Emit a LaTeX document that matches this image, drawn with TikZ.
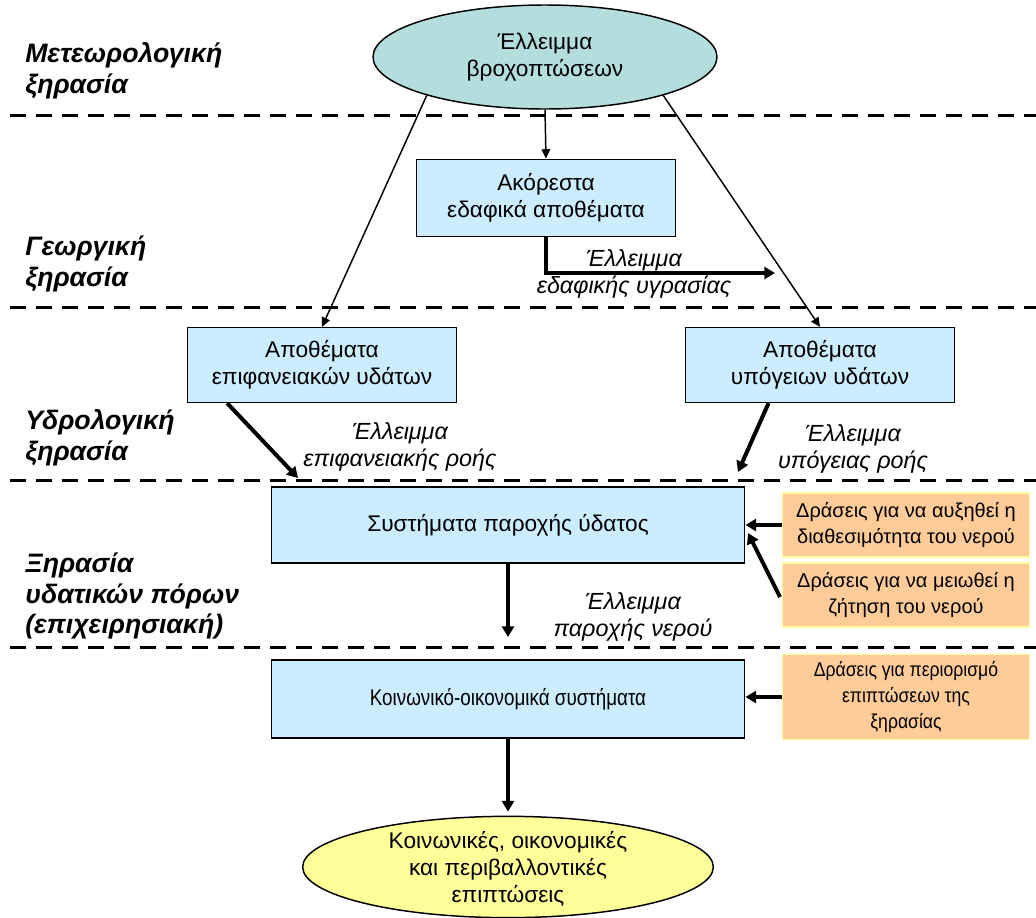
\documentclass[tikz,border=0pt]{standalone}
\usepackage{fontspec}
\setmainfont{Liberation Sans}
\usetikzlibrary{arrows.meta,shapes.geometric,calc}
\definecolor{boxblue}{HTML}{CCECFF}
\definecolor{ellteal}{HTML}{B4DEDE}
\definecolor{actorange}{HTML}{FFCC99}
\definecolor{actborder}{HTML}{FFFF99}
\definecolor{impyellow}{HTML}{FFFF99}
\tikzset{
  bluebox/.style={draw=black, line width=1.2pt, fill=boxblue, align=center, inner sep=0pt,
    font=\fontsize{17}{20}\selectfont},
  actbox/.style={draw=actborder, line width=1pt, fill=actorange, align=center, inner sep=0pt,
    minimum width=185pt, font=\fontsize{15}{19.5}\selectfont},
  ellnode/.style={ellipse, draw=black, line width=1.1pt, inner sep=0pt},
  bodytext/.style={align=center, inner sep=0pt, font=\fontsize{17}{20}\selectfont},
  sidelabel/.style={anchor=west, align=left, inner sep=0pt, font=\bfseries\itshape\fontsize{20}{23}\selectfont},
  flowlabel/.style={align=center, inner sep=0pt, font=\itshape\fontsize{17.5}{20.5}\selectfont},
  sepline/.style={line width=2.25pt, dash pattern=on 12pt off 7.5pt},
  thinarr/.style={line width=1.1pt, -{Triangle[length=7pt,width=6.5pt]}},
  thickarr/.style={line width=3pt, -{Triangle[length=8pt,width=9pt]}},
}
\begin{document}
\begin{tikzpicture}[x=0.75pt,y=-0.75pt]
\useasboundingbox (0,0) rectangle (1036,918);

% separators
\draw[sepline] (10,115) -- (1036,115);
\draw[sepline] (10,307) -- (1036,307);
\draw[sepline] (10,480) -- (1036,480);
\draw[sepline] (10,647) -- (1036,647);

% side labels
\node[sidelabel] (sl1) at (25,71) {Μετεωρολογική\\ξηρασία};
\node[sidelabel] (sl2) at (25,264) {Γεωργική\\ξηρασία};
\node[sidelabel] (sl3) at (25,438) {Υδρολογική\\ξηρασία};
\node[sidelabel] (sl4) at (25,596) {Ξηρασία\\υδατικών πόρων\\(επιχειρησιακή)};

% nodes
\node[ellnode, fill=ellteal, minimum width=258pt, minimum height=78pt, align=center,
      font=\fontsize{17}{20}\selectfont] (top) at (545,57) {Έλλειμμα\\βροχοπτώσεων};
\node[bluebox, minimum width=194pt, minimum height=58pt] (ak) at (546,198) {Ακόρεστα\\εδαφικά αποθέματα};
\node[bluebox, minimum width=202pt, minimum height=56pt] (lb) at (322,365) {Αποθέματα\\επιφανειακών υδάτων};
\node[bluebox, minimum width=202pt, minimum height=56pt] (rb) at (820,365) {Αποθέματα\\υπόγειων υδάτων};
\node[bluebox, minimum width=355pt, minimum height=57pt] (sys) at (508,525) {Συστήματα παροχής ύδατος};
\node[bluebox, minimum width=355pt, minimum height=58.5pt] (soc) at (508,699)
  {\scalebox{0.83}[1]{Κοινωνικό-οικονομικά συστήματα}};

\node[actbox, minimum height=48pt] (o1) at (906,525) {Δράσεις για να αυξηθεί η\\διαθεσιμότητα του νερού};
\node[actbox, minimum height=48pt] (o2) at (906,595) {Δράσεις για να μειωθεί η\\ζήτηση του νερού};
\node[actbox, minimum height=64pt] (o3) at (906,697)
  {\scalebox{0.88}[1]{\begin{tabular}{@{}c@{}}Δράσεις για περιορισμό\\επιπτώσεων της\\ξηρασίας\end{tabular}}};

\node[ellnode, fill=impyellow, minimum width=308pt, minimum height=76pt] (imp) at (508,867) {};
\node[bodytext] (impt) at (508,869) {Κοινωνικές, οικονομικές\\και περιβαλλοντικές\\επιπτώσεις};

% flow labels
\node[flowlabel] (fl1) at (634,274) {Έλλειμμα\\εδαφικής υγρασίας};
\node[flowlabel] (fl2) at (400,447) {Έλλειμμα\\επιφανειακής ροής};
\node[flowlabel] (fl3) at (853,449) {Έλλειμμα\\υπόγειας ροής};
\node[flowlabel] (fl4) at (633,617) {Έλλειμμα\\παροχής νερού};

% connectors
\draw[thinarr] (top.-162) -- (lb.north);
\draw[thinarr] (top.-18) -- (rb.north);
\draw[thinarr] (top.south) -- (ak.north);

\coordinate (e1) at (775,273);
\draw[thickarr] (ak.south) |- (e1);
\coordinate (e2) at (298,478);
\draw[thickarr] ($(lb.south west)!0.15!(lb.south east)$) -- (e2);
\coordinate (e3) at (738,472);
\draw[thickarr] ($(rb.south west)!0.31!(rb.south east)$) -- (e3);
\coordinate (e4) at (508,637);
\draw[thickarr] (sys.south) -- (e4);
\draw[thickarr] (o1.west) -- (sys.east);
\coordinate (e5) at (748,533);
\draw[thickarr] ($(o2.west)+(-2,2)$) -- (e5);
\draw[thickarr] (o3.west) -- (o3.west -| soc.east);
\draw[thickarr, shorten >=3pt] (soc.south) -- (imp.north);
\end{tikzpicture}
\end{document}
